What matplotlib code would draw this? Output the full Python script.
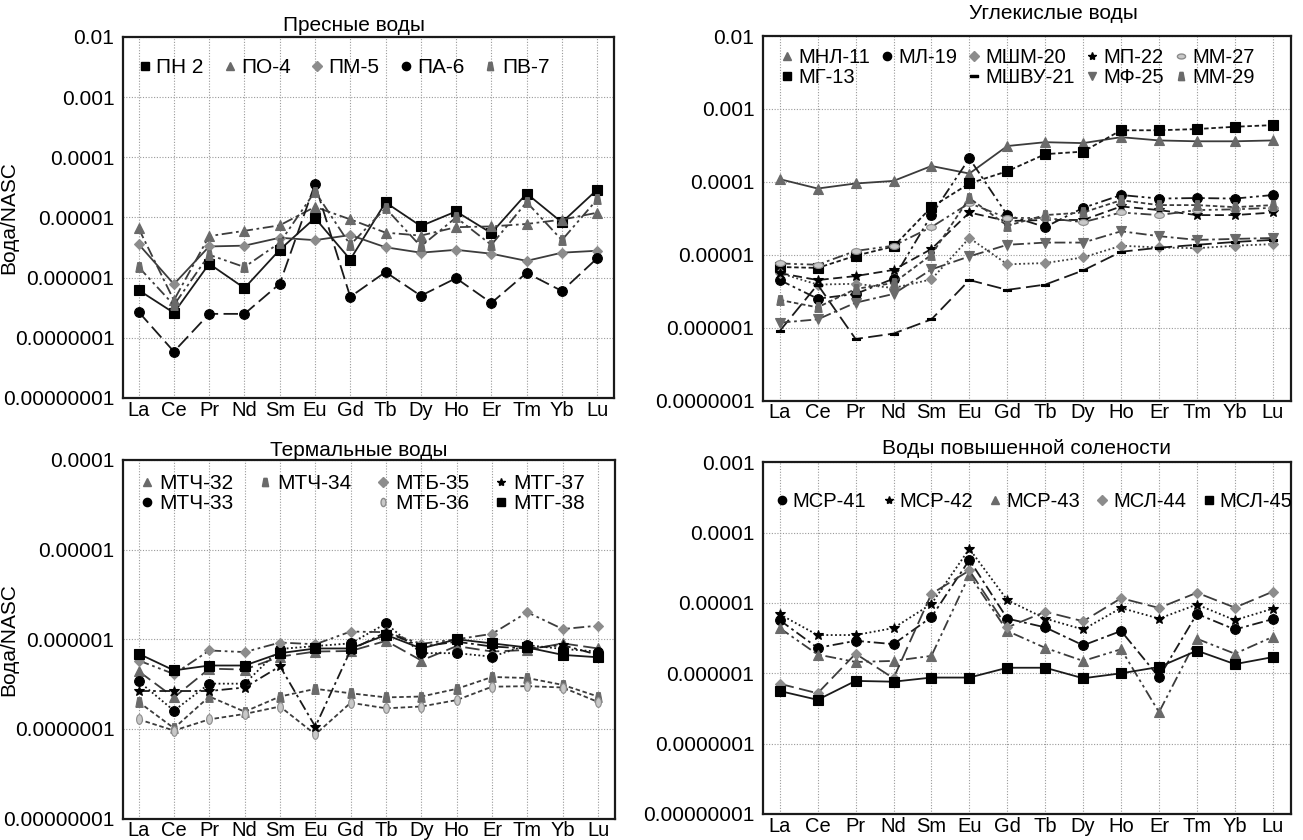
import numpy as np
import matplotlib.pyplot as plt
from matplotlib.lines import Line2D
from matplotlib.ticker import FixedLocator, FixedFormatter, NullLocator

plt.rcParams['font.family'] = ['Liberation Sans', 'DejaVu Sans']

ELEMENTS = ["La", "Ce", "Pr", "Nd", "Sm", "Eu", "Gd", "Tb", "Dy", "Ho", "Er", "Tm", "Yb", "Lu"]

# ---------- Пресные воды ----------
PN_2 = [6.2e-7, 2.6e-7, 1.7e-6, 6.7e-7, 2.9e-6, 9.8e-6, 2.0e-6, 1.78e-5, 7.2e-6, 1.26e-5, 5.5e-6, 2.5e-5, 8.3e-6, 2.9e-5]
PO_4 = [6.6e-6, 4.2e-7, 4.9e-6, 6.0e-6, 7.4e-6, 1.5e-5, 9.3e-6, 5.6e-6, 5.0e-6, 6.9e-6, 7.1e-6, 7.8e-6, 9.2e-6, 1.2e-5]
PM_5 = [3.6e-6, 7.8e-7, 3.3e-6, 3.4e-6, 4.6e-6, 4.2e-6, 5.1e-6, 3.2e-6, 2.6e-6, 2.9e-6, 2.5e-6, 1.9e-6, 2.6e-6, 2.8e-6]
PA_6 = [2.7e-7, 5.9e-8, 2.5e-7, 2.5e-7, 7.9e-7, 3.6e-5, 4.8e-7, 1.24e-6, 5.0e-7, 9.8e-7, 3.8e-7, 1.2e-6, 6.0e-7, 2.1e-6]
PV_7 = [1.5e-6, 3.5e-7, 2.4e-6, 1.5e-6, 3.8e-6, 2.7e-5, 3.5e-6, 1.43e-5, 3.3e-6, 1.0e-5, 3.5e-6, 1.8e-5, 4.2e-6, 2.0e-5]

# ---------- Углекислые воды ----------
MNL_11 = [1.09e-4, 8.1e-5, 9.5e-5, 1.03e-4, 1.65e-4, 1.3e-4, 3.1e-4, 3.5e-4, 3.4e-4, 4.1e-4, 3.7e-4, 3.6e-4, 3.6e-4, 3.7e-4]
MG_13 = [6.8e-6, 6.6e-6, 9.7e-6, 1.3e-5, 4.5e-5, 9.5e-5, 1.4e-4, 2.4e-4, 2.6e-4, 5.1e-4, 5.1e-4, 5.3e-4, 5.7e-4, 6.0e-4]
ML_19 = [4.5e-6, 2.5e-6, 2.9e-6, 4.7e-6, 3.5e-5, 2.1e-4, 3.5e-5, 2.4e-5, 4.4e-5, 6.6e-5, 5.9e-5, 6.0e-5, 5.9e-5, 6.6e-5]
MSHM_20 = [5.6e-6, 3.9e-6, 4.0e-6, 3.5e-6, 4.6e-6, 1.7e-5, 7.4e-6, 7.7e-6, 9.2e-6, 1.33e-5, 1.26e-5, 1.23e-5, 1.33e-5, 1.4e-5]
MSHVU_21 = [9e-7, 3.9e-6, 7e-7, 8.3e-7, 1.3e-6, 4.5e-6, 3.3e-6, 3.9e-6, 6.1e-6, 1.1e-5, 1.25e-5, 1.37e-5, 1.5e-5, 1.6e-5]
MP_22 = [5.6e-6, 4.5e-6, 5.1e-6, 6.2e-6, 1.2e-5, 3.8e-5, 2.9e-5, 3.0e-5, 3.0e-5, 4.6e-5, 4.1e-5, 3.5e-5, 3.5e-5, 3.8e-5]
MF_25 = [1.17e-6, 1.3e-6, 2.2e-6, 2.9e-6, 6.3e-6, 9.5e-6, 1.37e-5, 1.47e-5, 1.47e-5, 2.1e-5, 1.8e-5, 1.6e-5, 1.65e-5, 1.7e-5]
MM_27 = [7.6e-6, 7.3e-6, 1.13e-5, 1.33e-5, 2.4e-5, 5.1e-5, 3.2e-5, 3.2e-5, 2.8e-5, 3.8e-5, 3.5e-5, 4.1e-5, 4.2e-5, 4.4e-5]
MM_29 = [2.4e-6, 1.9e-6, 3.4e-6, 4.1e-6, 1.0e-5, 6.0e-5, 2.5e-5, 3.5e-5, 3.8e-5, 5.6e-5, 4.8e-5, 4.8e-5, 4.5e-5, 4.8e-5]

# ---------- Термальные воды ----------
MTCH_32 = [4.4e-7, 2.25e-7, 4.7e-7, 4.6e-7, 6.4e-7, 7.3e-7, 7.4e-7, 9.6e-7, 5.8e-7, 8.4e-7, 7.3e-7, 7.6e-7, 9.0e-7, 7.9e-7]
MTCH_33 = [3.4e-7, 1.6e-7, 3.2e-7, 3.2e-7, 7.8e-7, 8.4e-7, 9.0e-7, 1.5e-6, 7.0e-7, 7.0e-7, 6.4e-7, 8.6e-7, 7.8e-7, 7.3e-7]
MTCH_34 = [2.0e-7, 1.02e-7, 2.3e-7, 1.56e-7, 2.3e-7, 2.8e-7, 2.5e-7, 2.25e-7, 2.3e-7, 2.8e-7, 3.8e-7, 3.7e-7, 3.1e-7, 2.3e-7]
MTB_35 = [5.8e-7, 4.1e-7, 7.5e-7, 7.2e-7, 9.2e-7, 8.8e-7, 1.22e-6, 1.2e-6, 8.9e-7, 1.0e-6, 1.15e-6, 2.0e-6, 1.3e-6, 1.42e-6]
MTB_36 = [1.28e-7, 9.6e-8, 1.28e-7, 1.47e-7, 1.78e-7, 8.7e-8, 1.96e-7, 1.7e-7, 1.78e-7, 2.1e-7, 2.96e-7, 3.0e-7, 2.9e-7, 2.0e-7]
MTG_37 = [2.65e-7, 2.65e-7, 2.65e-7, 2.9e-7, 5.0e-7, 1.06e-7, 7.6e-7, 1.2e-6, 8.3e-7, 9.4e-7, 8.3e-7, 7.9e-7, 8.6e-7, 6.7e-7]
MTG_38 = [6.9e-7, 4.5e-7, 5.1e-7, 5.1e-7, 7.0e-7, 7.9e-7, 7.9e-7, 1.12e-6, 7.9e-7, 1.0e-6, 9.0e-7, 8.1e-7, 6.7e-7, 6.3e-7]

# ---------- Воды повышенной солености ----------
MSR_41 = [5.7e-6, 2.3e-6, 2.9e-6, 2.6e-6, 6.3e-6, 4.1e-5, 6.0e-6, 4.5e-6, 2.5e-6, 4.0e-6, 8.8e-7, 7.0e-6, 4.2e-6, 5.9e-6]
MSR_42 = [6.9e-6, 3.5e-6, 3.5e-6, 4.4e-6, 9.7e-6, 5.9e-5, 1.1e-5, 6.0e-6, 4.2e-6, 8.5e-6, 6.0e-6, 9.5e-6, 5.7e-6, 8.3e-6]
MSR_43 = [4.4e-6, 1.85e-6, 1.45e-6, 1.5e-6, 1.77e-6, 2.5e-5, 4.0e-6, 2.3e-6, 1.5e-6, 2.2e-6, 2.8e-7, 3.1e-6, 1.9e-6, 3.3e-6]
MSL_44 = [7.1e-7, 5.2e-7, 1.9e-6, 8.5e-7, 1.35e-5, 2.9e-5, 4.5e-6, 7.5e-6, 5.5e-6, 1.17e-5, 8.5e-6, 1.4e-5, 8.6e-6, 1.45e-5]
MSL_45 = [5.6e-7, 4.2e-7, 7.8e-7, 7.6e-7, 8.7e-7, 8.7e-7, 1.2e-6, 1.2e-6, 8.5e-7, 1.0e-6, 1.23e-6, 2.1e-6, 1.35e-6, 1.7e-6]


# ---------- marker shapes / colours ----------
BLACK = "#000000"
DGRAY = "#6a6a6a"
MGRAY = "#8c8c8c"
LGRAY = "#c8c8c8"
LINE_D = "#1a1a1a"
LINE_G = "#3c3c3c"

TRAP = [(-0.6, -0.8), (0.6, -0.8), (0.3, 0.8), (-0.3, 0.8), (-0.6, -0.8)]
BAR = [(-1, -0.3), (1, -0.3), (1, 0.3), (-1, 0.3), (-1, -0.3)]
_t = np.linspace(0, 2 * np.pi, 25)
ELL_H = list(zip(np.cos(_t), 0.6 * np.sin(_t)))
ELL_V = list(zip(0.6 * np.cos(_t), np.sin(_t)))

DASHDOT = (0, (6, 2, 1.5, 2))
DASHDOTDOT = (0, (6, 2, 1.5, 2, 1.5, 2))
LONGDASH = (0, (8, 3))
DASH = (0, (5, 2.5))
SHORTDASH = (0, (2.5, 1.5))
DOT = (0, (1, 1.4))


def sty(marker, mfc, ms, ls, lc, mec=None):
    return dict(marker=marker, mfc=mfc, mec=mec or mfc, ms=ms, ls=ls, color=lc)


PANELS = [
    dict(title="Пресные воды", ylim=(1e-8, 1e-2), ylabel=True, pad=4, title_x=0.47,
         pos=[0.0942, 0.5262, 0.3771, 0.4298], ncol=5, fs_leg=15,
         legend_anchor=(0.005, 0.975), colsp=0.9,
         series=[("ПН 2", PN_2, sty("s", BLACK, 7, "-", LINE_D)),
                 ("ПО-4", PO_4, sty("^", DGRAY, 7, DASHDOT, LINE_G)),
                 ("ПМ-5", PM_5, sty("D", MGRAY, 5.5, "-", LINE_G)),
                 ("ПА-6", PA_6, sty("o", BLACK, 7, LONGDASH, LINE_D)),
                 ("ПВ-7", PV_7, sty(TRAP, DGRAY, 7, DASHDOTDOT, LINE_G))],
         order=None),
    dict(title="Углекислые воды", ylim=(1e-7, 1e-2), ylabel=False, pad=12, title_x=0.55,
         pos=[0.5853, 0.5231, 0.4055, 0.4340], ncol=5, fs_leg=14.5,
         legend_anchor=(0.01, 1.0), colsp=0.5,
         series=[("МНЛ-11", MNL_11, sty("^", DGRAY, 7, "-", LINE_G)),
                 ("МГ-13", MG_13, sty("s", BLACK, 7, SHORTDASH, LINE_D)),
                 ("МЛ-19", ML_19, sty("o", BLACK, 7, DASHDOTDOT, LINE_D)),
                 ("МШМ-20", MSHM_20, sty("D", MGRAY, 5.5, DOT, LINE_G)),
                 ("МШВУ-21", MSHVU_21, sty(BAR, BLACK, 6, LONGDASH, LINE_D)),
                 ("МП-22", MP_22, sty("*", BLACK, 7, DASH, LINE_D)),
                 ("МФ-25", MF_25, sty("v", DGRAY, 7, DASHDOT, LINE_G)),
                 ("ММ-27", MM_27, sty(ELL_H, LGRAY, 7, DASHDOTDOT, LINE_G, mec=MGRAY)),
                 ("ММ-29", MM_29, sty(TRAP, DGRAY, 7, SHORTDASH, LINE_G))],
         order=["МНЛ-11", "МГ-13", "МЛ-19", None, "МШМ-20", "МШВУ-21",
                "МП-22", "МФ-25", "ММ-27", "ММ-29"]),
    dict(title="Термальные воды", ylim=(1e-8, 1e-4), ylabel=True, pad=3, title_x=0.48,
         pos=[0.0942, 0.0254, 0.3778, 0.4271], ncol=4, fs_leg=15,
         legend_anchor=(0.01, 0.995), colsp=1.2,
         series=[("МТЧ-32", MTCH_32, sty("^", DGRAY, 7, LONGDASH, LINE_G)),
                 ("МТЧ-33", MTCH_33, sty("o", BLACK, 7, DOT, LINE_D)),
                 ("МТЧ-34", MTCH_34, sty(TRAP, DGRAY, 7, SHORTDASH, LINE_G)),
                 ("МТБ-35", MTB_35, sty("D", MGRAY, 5.5, DASHDOTDOT, LINE_G)),
                 ("МТБ-36", MTB_36, sty(ELL_V, LGRAY, 7, SHORTDASH, LINE_G, mec=MGRAY)),
                 ("МТГ-37", MTG_37, sty("*", BLACK, 7, DASHDOT, LINE_D)),
                 ("МТГ-38", MTG_38, sty("s", BLACK, 7, "-", LINE_D))],
         order=["МТЧ-32", "МТЧ-33", "МТЧ-34", None, "МТБ-35", "МТБ-36",
                "МТГ-37", "МТГ-38"]),
    dict(title="Воды повышенной солености", ylim=(1e-8, 1e-3), ylabel=False, pad=6,
         title_x=0.5, pos=[0.5853, 0.0310, 0.4055, 0.4186], ncol=5, fs_leg=14.5,
         legend_anchor=(0.0, 0.95), colsp=0.75,
         series=[("МСР-41", MSR_41, sty("o", BLACK, 7, DASHDOT, LINE_D)),
                 ("МСР-42", MSR_42, sty("*", BLACK, 7, DOT, LINE_D)),
                 ("МСР-43", MSR_43, sty("^", DGRAY, 7, DASHDOTDOT, LINE_G)),
                 ("МСЛ-44", MSL_44, sty("D", MGRAY, 5.5, LONGDASH, LINE_G)),
                 ("МСЛ-45", MSL_45, sty("s", BLACK, 7, "-", LINE_D))],
         order=None),
]


def fmt_dec(v):
    n = int(round(-np.log10(v)))
    return "0." + "0" * (n - 1) + "1"


def draw_panel(fig, p):
    ax = fig.add_axes(p["pos"])
    x = np.arange(len(ELEMENTS))
    handles = {}
    for name, vals, s in p["series"]:
        ax.plot(x, vals, lw=1.3, linestyle=s["ls"], color=s["color"],
                marker=s["marker"], mfc=s["mfc"], mec=s["mec"], ms=s["ms"],
                mew=0.8)
        handles[name] = Line2D([], [], linestyle="None", marker=s["marker"],
                               mfc=s["mfc"], mec=s["mec"], ms=s["ms"] * 0.85)

    ax.set_yscale("log")
    ax.set_ylim(*p["ylim"])
    ax.set_xlim(-0.45, 13.48)

    lo, hi = np.log10(p["ylim"])
    decades = [10.0 ** k for k in range(int(round(lo)), int(round(hi)) + 1)]
    ax.yaxis.set_major_locator(FixedLocator(decades))
    ax.yaxis.set_major_formatter(FixedFormatter([fmt_dec(d) for d in decades]))
    ax.yaxis.set_minor_locator(NullLocator())
    ax.set_xticks(x)
    ax.set_xticklabels(ELEMENTS)
    ax.tick_params(axis="y", length=0, labelsize=15, pad=6)
    ax.tick_params(axis="x", length=0, labelsize=14.5, pad=2)

    ax.grid(True, which="major", color="#9a9a9a", linestyle=(0, (1, 1.5)), lw=0.8)
    ax.set_axisbelow(True)
    for sp in ax.spines.values():
        sp.set_linewidth(1.6)
        sp.set_color("#1a1a1a")

    ax.set_title(p["title"], fontsize=15, pad=p["pad"], x=p["title_x"])
    if p["ylabel"]:
        ax.set_ylabel("Вода/NASC", fontsize=15)
        ax.yaxis.set_label_coords(-0.213, 0.5)

    order = p["order"] or [s[0] for s in p["series"]]
    hs, ls = [], []
    for name in order:
        if name is None:
            hs.append(Line2D([], [], linestyle="None"))
            ls.append("")
        else:
            hs.append(handles[name])
            ls.append(name)
    ax.legend(hs, ls, ncol=p["ncol"], loc="upper left",
              bbox_to_anchor=p["legend_anchor"], frameon=False, fontsize=p["fs_leg"],
              handlelength=0.7, handletextpad=0.2, columnspacing=p["colsp"],
              labelspacing=0.05, borderaxespad=0.2)
    return ax


fig = plt.figure(figsize=(13.03, 8.40), dpi=100)
for panel in PANELS:
    draw_panel(fig, panel)

fig.savefig("out.png", dpi=100)
